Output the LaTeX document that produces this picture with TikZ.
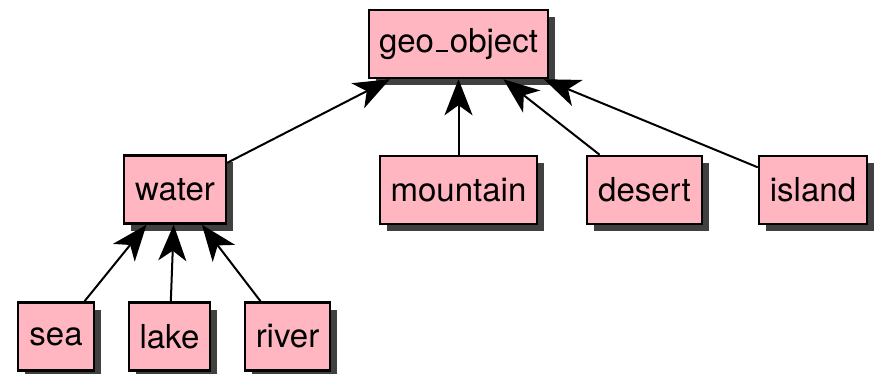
\documentclass[tikz,border=0pt]{standalone}
\usepackage{fontspec}
\setmainfont{TeX Gyre Heros}
\usetikzlibrary{arrows.meta,shadows}
\definecolor{boxpink}{HTML}{FFB6C1}
\definecolor{shadowgray}{HTML}{404040}
\tikzset{
  classbox/.style={draw=black, line width=2.5pt, fill=boxpink,
    minimum height=68pt, inner xsep=10pt, inner ysep=0pt,
    font=\fontsize{33}{38}\selectfont,
    drop shadow={shadow xshift=7pt, shadow yshift=-7pt, fill=shadowgray, opacity=1}},
  isa/.style={line width=2pt, -{Stealth[length=36pt, width=28pt, inset=10pt]}}
}
\newcommand{\lowbar}{\kern0.06em\rule[0pt]{0.36em}{2.5pt}\kern0.06em}
\begin{document}
\begin{tikzpicture}[x=1pt, y=-1pt]
\useasboundingbox (0,0) rectangle (877,374);
\node[classbox, minimum width=175pt] (geo) at (458.5,44) {geo\lowbar object};
\node[classbox, minimum width=102pt] (water) at (175,189.5) {water};
\node[classbox, minimum width=157pt] (mountain) at (458.5,190) {mountain};
\node[classbox, minimum width=115pt] (desert) at (644.5,190) {desert};
\node[classbox, minimum width=108pt] (island) at (813,190) {island};
\node[classbox, minimum width=76pt] (sea) at (56,336.5) {sea};
\node[classbox, minimum width=81pt] (lake) at (169.5,336.5) {lake};
\node[classbox, minimum width=85pt] (river) at (287.5,336.5) {river};
\draw[isa] (water) -- (geo);
\draw[isa] (mountain) -- (geo);
\draw[isa] (desert) -- (geo);
\draw[isa] (island) -- (geo);
\draw[isa] (sea) -- (water);
\draw[isa] (lake) -- (water);
\draw[isa] (river) -- (water);
\end{tikzpicture}
\end{document}
